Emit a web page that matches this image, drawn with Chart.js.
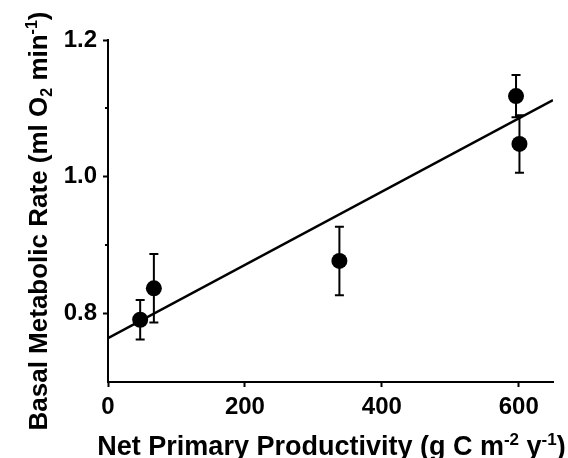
<!DOCTYPE html>
<html>
<head>
<meta charset="utf-8">
<script src="https://cdn.jsdelivr.net/npm/chart.js@4/dist/chart.umd.min.js"></script>
<style>
  html, body { margin: 0; padding: 0; background: #fff; }
</style>
</head>
<body>
<canvas id="myChart" width="568" height="458"></canvas>
<script>
// values
const npp = [47, 67, 338, 596, 601];
const bmr = [0.791, 0.837, 0.877, 1.118, 1.048];
const bmrErr = [0.029, 0.05, 0.05, 0.031, 0.042];
const fitX = [0, 650];
const fitY = [0.764, 1.112];
const xTicks = [0, 200, 400, 600];
const yTicks = [0.8, 1.0, 1.2];
const yMinorTicks = [0.9, 1.1];

const FONT = "'Liberation Sans', Arial, Helvetica, sans-serif";
Chart.defaults.font.family = FONT;
Chart.defaults.color = "#000";

// draws "text" parts with sub/superscripts, centred on x
const drawRich = (ctx, parts, cx, baseY, size) => {
  const pieces = parts.map((p) => {
    const s = p.small ? Math.round(size * 0.62) : size;
    ctx.font = `bold ${s}px ${FONT}`;
    return { ...p, s, w: ctx.measureText(p.t).width };
  });
  const total = pieces.reduce((a, p) => a + p.w, 0);
  let x = cx - total / 2;
  ctx.textAlign = "left";
  ctx.textBaseline = "alphabetic";
  pieces.forEach((p) => {
    ctx.font = `bold ${p.s}px ${FONT}`;
    ctx.fillText(p.t, x, baseY + (p.shift || 0));
    x += p.w;
  });
};

const errorBars = {
  id: "errorBars",
  beforeDatasetsDraw(chart) {
    const { ctx, scales: { x, y } } = chart;
    ctx.save();
    ctx.strokeStyle = "#000";
    ctx.lineWidth = 2;
    ctx.beginPath();
    npp.forEach((v, i) => {
      const px = x.getPixelForValue(v);
      const top = y.getPixelForValue(bmr[i] + bmrErr[i]);
      const bot = y.getPixelForValue(bmr[i] - bmrErr[i]);
      ctx.moveTo(px, top);
      ctx.lineTo(px, bot);
      ctx.moveTo(px - 4.5, top);
      ctx.lineTo(px + 4.5, top);
      ctx.moveTo(px - 4.5, bot);
      ctx.lineTo(px + 4.5, bot);
    });
    ctx.stroke();
    ctx.restore();
  },
  afterDraw(chart) {
    const { ctx, chartArea, scales: { y } } = chart;
    ctx.save();
    ctx.strokeStyle = "#000";
    ctx.lineWidth = 2;
    ctx.beginPath();
    yMinorTicks.forEach((v) => {
      const py = Math.round(y.getPixelForValue(v));
      ctx.moveTo(chartArea.left - 3, py);
      ctx.lineTo(chartArea.left, py);
    });
    ctx.stroke();

    ctx.fillStyle = "#000";
    const cx = (chartArea.left + chartArea.right) / 2 + 1;
    drawRich(ctx, [
      { t: "Net Primary Productivity (g C m" },
      { t: "-2", small: true, shift: -10 },
      { t: " y" },
      { t: "-1", small: true, shift: -10 },
      { t: ")" },
    ], cx, 455, 27);

    ctx.translate(47, 221);
    ctx.rotate(-Math.PI / 2);
    drawRich(ctx, [
      { t: "Basal Metabolic Rate (ml O" },
      { t: "2", small: true, shift: 5 },
      { t: " min" },
      { t: "-1", small: true, shift: -10 },
      { t: ")" },
    ], 0, 0, 26);
    ctx.restore();
  },
};

const axisStyle = {
  border: { display: true, color: "#000", width: 2 },
  grid: {
    drawOnChartArea: false,
    drawTicks: true,
    tickLength: 5,
    tickWidth: 2,
    tickColor: "#000",
  },
  ticks: {
    color: "#000",
    padding: 6,
    font: { size: 24, weight: "bold" },
  },
  title: { display: false },
};

new Chart(document.getElementById("myChart"), {
  data: {
    datasets: [
      {
        type: "line",
        data: fitX.map((v, i) => ({ x: v, y: fitY[i] })),
        borderColor: "#000",
        borderWidth: 2.5,
        pointRadius: 0,
        fill: false,
      },
      {
        type: "scatter",
        data: npp.map((v, i) => ({ x: v, y: bmr[i] })),
        backgroundColor: "#000",
        borderWidth: 0,
        pointRadius: 8,
        pointHoverRadius: 8,
      },
    ],
  },
  options: {
    responsive: false,
    animation: false,
    devicePixelRatio: 1,
    layout: { padding: { top: 40, right: 15, left: 0, bottom: 0 } },
    plugins: { legend: { display: false }, tooltip: { enabled: false } },
    scales: {
      x: {
        ...axisStyle,
        type: "linear",
        min: 0,
        max: 650,
        afterBuildTicks: (scale) => {
          scale.ticks = xTicks.map((v) => ({ value: v }));
        },
        afterFit: (scale) => {
          scale.height = 76;
        },
        ticks: { ...axisStyle.ticks, callback: (v) => String(v) },
      },
      y: {
        ...axisStyle,
        type: "linear",
        min: 0.7,
        max: 1.2,
        afterBuildTicks: (scale) => {
          scale.ticks = yTicks.map((v) => ({ value: v }));
        },
        afterFit: (scale) => {
          scale.width = 108;
        },
        ticks: { ...axisStyle.ticks, callback: (v) => v.toFixed(1) },
      },
    },
  },
  plugins: [errorBars],
});
</script>
</body>
</html>
